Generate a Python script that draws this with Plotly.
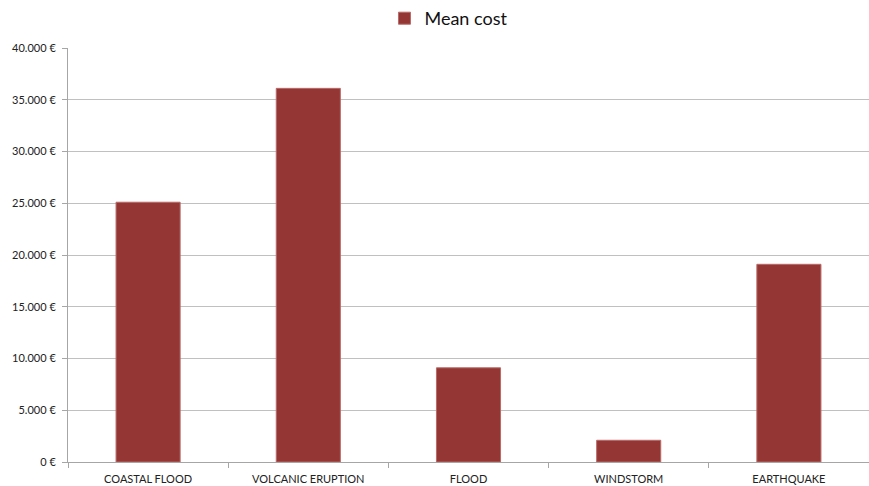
import plotly.graph_objects as go

categories = ["COASTAL FLOOD", "VOLCANIC ERUPTION", "FLOOD", "WINDSTORM", "EARTHQUAKE"]
mean_cost = [25100, 36100, 9100, 2100, 19100]
series_name = "Mean cost"
y_ticks = [0, 5000, 10000, 15000, 20000, 25000, 30000, 35000, 40000]
y_ticktext = [f"{v:,}".replace(",", ".") + " €" for v in y_ticks]

fig = go.Figure()
fig.add_trace(go.Bar(
    x=categories, y=mean_cost, name=series_name,
    marker=dict(color="#943634", line=dict(color="#B86A68", width=1)),
    showlegend=True,
))

fig.update_layout(
    width=869, height=486,
    margin=dict(l=68, r=0, t=48, b=24),
    paper_bgcolor="white", plot_bgcolor="white",
    bargap=0.6,
    font=dict(family="Lato, Open Sans, sans-serif", color="#222222"),
    showlegend=True,
    legend=dict(orientation="h", x=0.475, xanchor="center", y=1.0, yref="container",
                yanchor="top", font=dict(size=18, color="#111111"), itemwidth=30),
)

fig.update_yaxes(
    range=[0, 40000], tickvals=y_ticks, ticktext=y_ticktext,
    showgrid=True, gridcolor="#C0C0C0", gridwidth=1,
    showline=True, linecolor="#A6A6A6", linewidth=1,
    ticks="outside", ticklen=5, tickcolor="#A6A6A6", ticklabelstandoff=4,
    tickfont=dict(size=11, color="#222222"), zeroline=False,
)
fig.update_xaxes(
    showline=True, linecolor="#A6A6A6", linewidth=1,
    ticks="outside", ticklen=5, tickcolor="#A6A6A6", tickson="boundaries",
    ticklabelstandoff=7,
    tickfont=dict(size=11, color="#222222"),
)

fig.write_html("out.html")
